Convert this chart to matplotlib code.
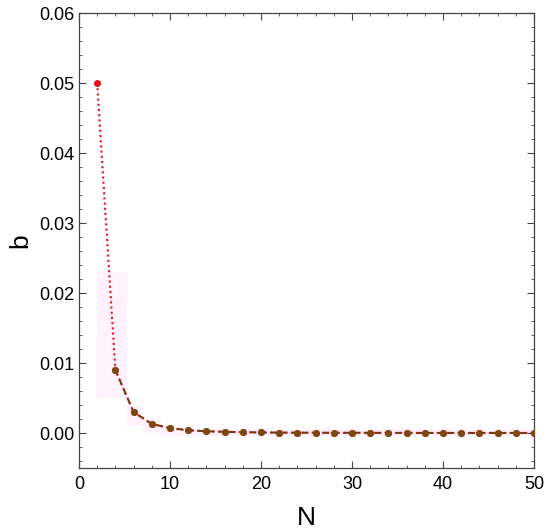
import matplotlib
matplotlib.use("Agg")
import matplotlib.pyplot as plt
from matplotlib.ticker import MultipleLocator, FormatStrFormatter

plt.rcParams['font.family'] = ['Liberation Sans', 'DejaVu Sans']

N_red = [2, 4, 6, 8, 10, 12, 14, 16, 18, 20, 22, 24, 26, 28, 30, 32, 34, 36, 38, 40, 42, 44, 46, 48, 50]
b_red = [0.05, 0.009, 0.003, 0.0013, 0.0007, 0.0004, 0.00025, 0.00017, 0.00012, 0.00008,
         0.00006, 0.00005, 0.00004, 0.00003, 0.00003, 0.00002, 0.00002, 0.00002, 0.00001, 0.00001,
         0.00001, 0.00001, 0.00001, 0.00001, 0.00001]
N_brown = N_red[1:]
b_brown = b_red[1:]

# faint pink uncertainty band (step edges, upper/lower)
band_x = [2, 3.3, 5.3, 7, 9, 11, 50]
band_hi = [0.023, 0.023, 0.004, 0.0018, 0.0008, 0.0006, 0.0006]
band_lo = [0.005, 0.005, 0.001, 0.0, -0.0004, -0.0004, -0.0004]

fig = plt.figure(figsize=(5.5, 5.31), dpi=100)
ax = fig.add_axes([0.1436, 0.1186, 0.8273, 0.8569])

ax.fill_between(band_x, band_lo, band_hi, step='post', color='#fff2fc', alpha=1.0, lw=0, zorder=1)

ax.plot(N_red, b_red, linestyle=(0, (1, 1.5)), color='#e8101a', lw=1.5, marker='o', ms=4,
        markerfacecolor='#e8101a', markeredgecolor='#e8101a', zorder=2)
ax.plot(N_brown, b_brown, linestyle=(0, (2.5, 2.5)), color='#6b3d0f', lw=1.5, marker='o', ms=4,
        markerfacecolor='#7a4a12', markeredgecolor='#7a4a12', zorder=3)

ax.set_xlim(0, 50)
ax.set_ylim(-0.005, 0.06)
ax.xaxis.set_major_locator(MultipleLocator(10))
ax.xaxis.set_minor_locator(MultipleLocator(2))
ax.yaxis.set_major_locator(MultipleLocator(0.01))
ax.yaxis.set_minor_locator(MultipleLocator(0.002))
ax.yaxis.set_major_formatter(FormatStrFormatter('%.2f'))
ax.tick_params(which='both', direction='in', top=True, right=True, labelsize=13, color='#444444')
ax.tick_params(which='major', length=5, width=0.8)
ax.tick_params(axis='x', which='major', pad=6)
ax.tick_params(axis='y', which='major', pad=3)
ax.tick_params(which='minor', length=2.5, width=0.6)
for s in ax.spines.values():
    s.set_color('#444444')
    s.set_linewidth(0.9)

ax.set_xlabel('N', fontsize=19, labelpad=9)
ax.set_ylabel('b', fontsize=19, labelpad=5)

fig.savefig('out.png', dpi=100)
